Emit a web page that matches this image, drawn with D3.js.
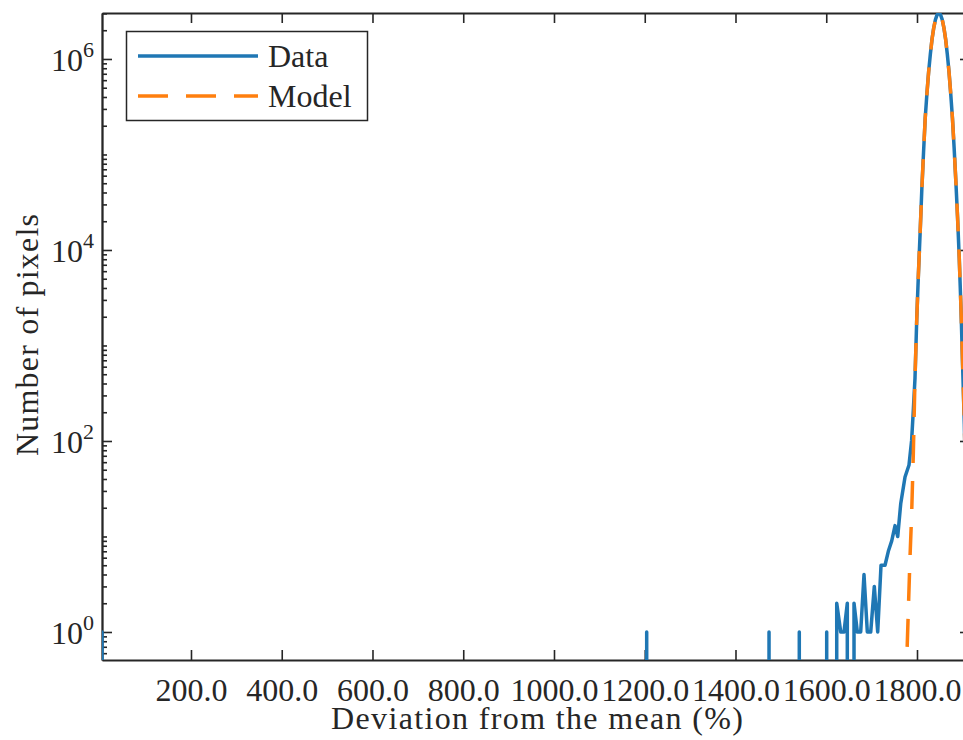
<!DOCTYPE html>
<html>
<head>
<meta charset="utf-8">
<script src="https://cdn.jsdelivr.net/npm/d3@7"></script>
<style>
  body { margin: 0; background: #fff; }
  svg { display: block; }
</style>
</head>
<body>
<div id="chart"></div>
<script>
// axis limits and ticks
var xLimits = [3.9, 1916.8];
var yLimits = [0.509, 3.03e6];
var xTicks = [200, 400, 600, 800, 1000, 1200, 1400, 1600, 1800];
var yTicks = [1, 1e2, 1e4, 1e6];
var yTickExp = [0, 2, 4, 6];

// histogram of the deviation (0 = empty bin)
var dataX = [3.9, 11.4, 1196.8, 1204.3, 1211.8, 1466.4, 1473.9, 1481.4, 1533.1, 1540.6, 1548.1,
  1593.5, 1601.0, 1608.5, 1615.6, 1623.1, 1631.9, 1639.1, 1646.4, 1653.7, 1661.2, 1668.5,
  1675.9, 1683.2, 1690.5, 1698.0, 1705.9, 1713.4, 1720.7, 1729.5, 1736.8, 1744.3, 1751.6,
  1757.5, 1764.1, 1773.6, 1782.4, 1788.2, 1791.9,
  1795.6, 1799.4, 1803.1, 1806.9, 1810.6, 1814.4, 1818.1, 1821.9, 1825.6, 1829.4, 1833.1,
  1836.9, 1840.6, 1844.4, 1848.1, 1851.8, 1855.6, 1859.3, 1863.1, 1866.8, 1870.6, 1874.3,
  1878.1, 1881.8, 1885.6, 1889.3, 1893.1, 1896.8, 1900.6, 1904.3, 1908.1, 1911.8];
var dataCount = [1, 0, 0, 1, 0, 0, 1, 0, 0, 1, 0,
  0, 1, 0, 0, 2, 1, 1, 2, 0, 2, 1,
  1, 4, 1, 1, 3, 1, 5, 5, 7, 9, 13,
  10, 22, 42, 56, 102, 211,
  456, 1862, 5554, 15190, 42810, 104960, 239870, 435120, 727900, 1119800, 1610400,
  2120300, 2579600, 2910200, 3030000, 2909800, 2580400, 2119700, 1609900, 1120300, 728100, 434900,
  240100, 118050, 52590, 22410, 8279, 2560, 590, 150, 20, 2];

// fitted model
var modelX = [1773.2, 1776.9, 1780.7, 1784.4, 1788.2, 1791.9, 1795.6, 1799.4, 1803.1, 1806.9,
  1810.6, 1814.4, 1818.1, 1821.9, 1825.6, 1829.4, 1833.1, 1836.9, 1840.6, 1844.4, 1848.1,
  1851.8, 1855.6, 1859.3, 1863.1, 1866.8, 1870.6, 1874.3, 1878.1, 1881.8, 1885.6, 1889.3,
  1893.1, 1896.8, 1900.6, 1904.3, 1908.1, 1911.8];
var modelCount = [0.076, 0.42, 1.57, 5.74, 17.1, 73.8, 456, 1860, 5560, 15200,
  42800, 105000, 240000, 435000, 728000, 1120000, 1610000, 2120000, 2580000, 2910000, 3030000,
  2910000, 2580000, 2120000, 1610000, 1120000, 728000, 435000, 240000, 118000, 52600, 22400,
  8280, 2600, 620, 160, 22, 2.4];

var width = 963, height = 740;
var plotLeft = 102, plotRight = 970, plotTop = 13, plotBottom = 660;
var ink = "#262626";
var font = "'Liberation Serif', 'Times New Roman', serif";

var x = d3.scaleLinear().domain(xLimits).range([plotLeft, plotRight]);
var y = d3.scaleLog().domain(yLimits).range([plotBottom, plotTop]);

var svg = d3.select("#chart").append("svg")
  .attr("width", width)
  .attr("height", height)
  .style("font-family", font);

svg.append("defs").append("clipPath").attr("id", "plotclip")
  .append("rect")
  .attr("x", plotLeft).attr("y", plotTop)
  .attr("width", plotRight - plotLeft).attr("height", plotBottom - plotTop);

// minor log ticks (everything except the labelled decades)
var minor = y.ticks(10).filter(function(t) {
  return t >= yLimits[0] && t <= yLimits[1] && yTicks.indexOf(t) < 0;
});

function styleAxis(g) {
  g.selectAll("path").attr("stroke", ink).attr("stroke-width", 1.8);
  g.selectAll("line").attr("stroke", ink).attr("stroke-width", 1.6);
  g.selectAll("text").attr("fill", ink).attr("font-size", 32).attr("font-family", font);
}

// bottom axis with labels
svg.append("g")
  .attr("transform", "translate(0," + plotBottom + ")")
  .call(d3.axisBottom(x).tickValues(xTicks).tickSizeInner(-10).tickSizeOuter(0)
    .tickPadding(18).tickFormat(d3.format(".1f")))
  .call(styleAxis);

// top axis, ticks only
svg.append("g")
  .attr("transform", "translate(0," + plotTop + ")")
  .call(d3.axisTop(x).tickValues(xTicks).tickSizeInner(-10).tickSizeOuter(0).tickFormat(""))
  .call(styleAxis);

// left axis: minor then major
svg.append("g")
  .attr("transform", "translate(" + plotLeft + ",0)")
  .call(d3.axisLeft(y).tickValues(minor).tickSizeInner(-5).tickSizeOuter(0).tickFormat(""))
  .call(styleAxis);
svg.append("g")
  .attr("transform", "translate(" + plotLeft + ",0)")
  .call(d3.axisLeft(y).tickValues(yTicks).tickSizeInner(-10).tickSizeOuter(0).tickFormat(""))
  .call(styleAxis);

// right axis
svg.append("g")
  .attr("transform", "translate(" + plotRight + ",0)")
  .call(d3.axisRight(y).tickValues(minor).tickSizeInner(-5).tickSizeOuter(0).tickFormat(""))
  .call(styleAxis);
svg.append("g")
  .attr("transform", "translate(" + plotRight + ",0)")
  .call(d3.axisRight(y).tickValues(yTicks).tickSizeInner(-10).tickSizeOuter(0).tickFormat(""))
  .call(styleAxis);

// y tick labels as 10^n
var ylab = svg.append("g").selectAll("text")
  .data(yTicks)
  .enter().append("text")
  .attr("x", plotLeft - 8)
  .attr("y", function(d) { return y(d) + 12; })
  .attr("text-anchor", "end")
  .attr("fill", ink)
  .attr("font-size", 32);
ylab.append("tspan").text("10");
ylab.append("tspan")
  .attr("dy", -14)
  .attr("font-size", 22)
  .text(function(d, i) { return yTickExp[i]; });

// axis titles
svg.append("text")
  .attr("x", 537)
  .attr("y", 729)
  .attr("text-anchor", "middle")
  .attr("fill", ink)
  .attr("font-size", 32)
  .attr("textLength", 412)
  .attr("lengthAdjust", "spacing")
  .text("Deviation from the mean (%)");

svg.append("text")
  .attr("transform", "translate(38,335) rotate(-90)")
  .attr("text-anchor", "middle")
  .attr("fill", ink)
  .attr("font-size", 32)
  .attr("textLength", 242)
  .attr("lengthAdjust", "spacing")
  .text("Number of pixels");

// zero bins fall straight down out of the log axis
var floorY = plotBottom + 40;
function histPoints(xs, cs) {
  var pts = [];
  for (var i = 0; i < xs.length; i++) {
    if (cs[i] > 0) {
      pts.push([x(xs[i]), y(cs[i])]);
    } else {
      if (i > 0 && cs[i - 1] > 0) pts.push([x(xs[i - 1]), floorY]);
      if (i < xs.length - 1 && cs[i + 1] > 0) pts.push([x(xs[i + 1]), floorY]);
    }
  }
  return pts;
}

var line = d3.line();
var plot = svg.append("g").attr("clip-path", "url(#plotclip)");

plot.append("path")
  .attr("d", line(histPoints(dataX, dataCount)))
  .attr("fill", "none")
  .attr("stroke", "#1f77b4")
  .attr("stroke-width", 3.5)
  .attr("stroke-linejoin", "round")
  .attr("stroke-linecap", "round");

plot.append("path")
  .attr("d", line(histPoints(modelX, modelCount)))
  .attr("fill", "none")
  .attr("stroke", "#ff7f0e")
  .attr("stroke-width", 3.5)
  .attr("stroke-dasharray", "28,18");

// legend
var legend = svg.append("g");
legend.append("rect")
  .attr("x", 126.5).attr("y", 31.5)
  .attr("width", 241).attr("height", 89)
  .attr("fill", "#fff")
  .attr("stroke", ink)
  .attr("stroke-width", 1.5);
var items = [
  {name: "Data", color: "#1f77b4", dash: null},
  {name: "Model", color: "#ff7f0e", dash: "30,18"}
];
var row = legend.selectAll(".item").data(items).enter().append("g")
  .attr("transform", function(d, i) { return "translate(0," + (56 + i * 40) + ")"; });
row.append("line")
  .attr("x1", 138).attr("x2", 258)
  .attr("stroke", function(d) { return d.color; })
  .attr("stroke-width", 3.5)
  .attr("stroke-dasharray", function(d) { return d.dash; });
row.append("text")
  .attr("x", 268).attr("y", 11)
  .attr("fill", ink)
  .attr("font-size", 32)
  .text(function(d) { return d.name; });
</script>
</body>
</html>
